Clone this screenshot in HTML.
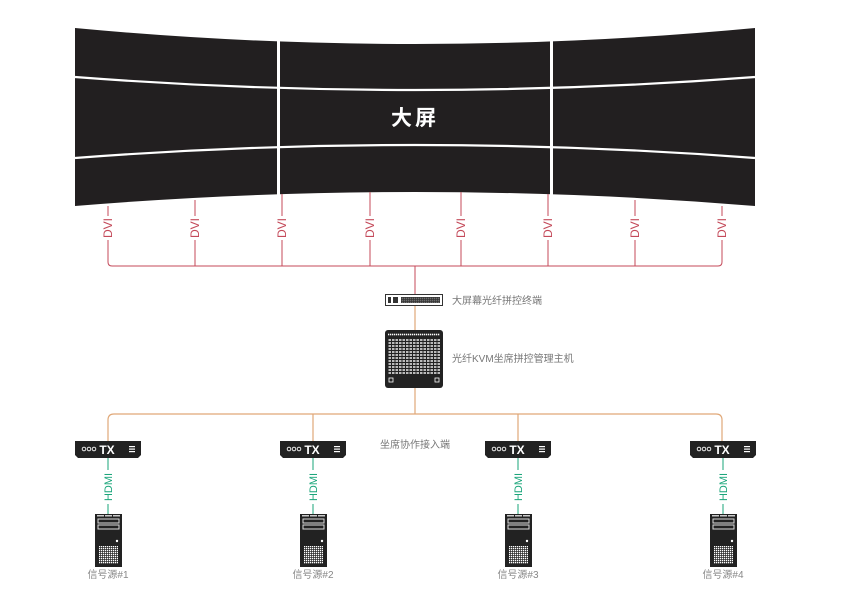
<!DOCTYPE html>
<html><head><meta charset="utf-8"><style>
html,body{margin:0;padding:0;background:#fff;width:852px;height:597px;overflow:hidden}
svg{display:block}
text{font-family:"Liberation Sans","Noto Sans CJK SC",sans-serif}
</style></head><body>
<svg width="852" height="597" viewBox="0 0 852 597" xmlns="http://www.w3.org/2000/svg">
<defs>
<g id="tx">
 <path d="M-33,0 H33 V14 L30,17 H-30 L-33,14 Z" fill="#222"/>
 <circle cx="-24" cy="8" r="1.8" fill="none" stroke="#fff" stroke-width="0.9"/>
 <circle cx="-19" cy="8" r="1.8" fill="none" stroke="#fff" stroke-width="0.9"/>
 <circle cx="-14" cy="8" r="1.8" fill="none" stroke="#fff" stroke-width="0.9"/>
 <text x="-1" y="13" font-size="12" font-weight="bold" fill="#fff" text-anchor="middle">TX</text>
 <rect x="21" y="5" width="6" height="1.2" fill="#fff"/><rect x="21" y="7.5" width="6" height="1.2" fill="#fff"/><rect x="21" y="10" width="6" height="1.2" fill="#fff"/>
</g>
<pattern id="grid" width="2" height="2" patternUnits="userSpaceOnUse"><rect width="1.3" height="1.3" fill="#fff"/></pattern>
<pattern id="kv" width="3.5" height="3" patternUnits="userSpaceOnUse"><rect width="2.5" height="2" fill="#bbb"/></pattern>
<g id="srv">
 <rect x="0" y="0" width="27" height="53" fill="#222"/>
 <rect x="2" y="1" width="7" height="1.5" fill="#ccc"/><rect x="10" y="1" width="7" height="1.5" fill="#ccc"/><rect x="18" y="1" width="7" height="1.5" fill="#ccc"/>
 <rect x="3" y="5" width="21" height="4" fill="none" stroke="#ddd" stroke-width="1"/>
 <rect x="3" y="11" width="21" height="4" fill="none" stroke="#ddd" stroke-width="1"/>
 <circle cx="22" cy="27" r="1.2" fill="#fff"/>
 <rect x="4" y="32" width="19" height="18" fill="url(#grid)"/>
</g>
</defs>
<!-- screen -->
<path d="M75,28 Q415,60 755,28 L755,206 Q415,178 75,206 Z" fill="#221f20"/>
<path d="M75,77 Q415,103 755,77" stroke="#fff" stroke-width="2.2" fill="none"/>
<path d="M75,158 Q415,132 755,158" stroke="#fff" stroke-width="2.2" fill="none"/>
<rect x="277" y="20" width="3" height="190" fill="#fff"/>
<rect x="550" y="20" width="3" height="190" fill="#fff"/>
<text x="415" y="125" font-size="21" font-weight="bold" fill="#fff" text-anchor="middle" letter-spacing="3">大屏</text>
<!-- DVI -->
<g stroke="#c44a5a" stroke-width="1" fill="none">
 <path d="M108,206 V262 Q108,266 112,266 H718 Q722,266 722,262 V206"/>
 <path d="M195,200 V266 M282,194 V266 M370,192 V266 M461,192 V266 M548,194 V266 M635,200 V266"/>
 <path d="M415,266 V294"/>
</g>
<g font-size="12" fill="#c44a5a">
 <g transform="translate(112,228) rotate(-90)"><rect x="-12" y="-10" width="24" height="12" fill="#fff"/><text text-anchor="middle">DVI</text></g>
 <g transform="translate(199,228) rotate(-90)"><rect x="-12" y="-10" width="24" height="12" fill="#fff"/><text text-anchor="middle">DVI</text></g>
 <g transform="translate(286,228) rotate(-90)"><rect x="-12" y="-10" width="24" height="12" fill="#fff"/><text text-anchor="middle">DVI</text></g>
 <g transform="translate(374,228) rotate(-90)"><rect x="-12" y="-10" width="24" height="12" fill="#fff"/><text text-anchor="middle">DVI</text></g>
 <g transform="translate(465,228) rotate(-90)"><rect x="-12" y="-10" width="24" height="12" fill="#fff"/><text text-anchor="middle">DVI</text></g>
 <g transform="translate(552,228) rotate(-90)"><rect x="-12" y="-10" width="24" height="12" fill="#fff"/><text text-anchor="middle">DVI</text></g>
 <g transform="translate(639,228) rotate(-90)"><rect x="-12" y="-10" width="24" height="12" fill="#fff"/><text text-anchor="middle">DVI</text></g>
 <g transform="translate(726,228) rotate(-90)"><rect x="-12" y="-10" width="24" height="12" fill="#fff"/><text text-anchor="middle">DVI</text></g>
</g>
<!-- orange -->
<g stroke="#e0a878" stroke-width="1.2" fill="none">
 <path d="M415,306 V330 M415,388 V414"/>
 <path d="M108,441 V420 Q108,414 114,414 H716 Q722,414 722,420 V441"/>
 <path d="M313,414 V441 M518,414 V441"/>
</g>
<!-- switch -->
<rect x="385.5" y="294.5" width="57" height="11" fill="#fff" stroke="#333"/>
<rect x="388" y="297" width="3" height="6" fill="#333"/><rect x="393" y="297" width="5" height="6" fill="#333"/>
<rect x="401" y="297" width="39" height="6" fill="#333"/>
<rect x="401" y="297" width="39" height="6" fill="url(#grid)" opacity="0.3"/>
<text x="452" y="304" font-size="10" fill="#777">大屏幕光纤拼控终端</text>
<!-- kvm -->
<rect x="385" y="330" width="58" height="58" rx="3" fill="#222"/>
<rect x="388" y="333" width="52" height="3" fill="url(#grid)"/>
<rect x="388" y="339" width="52" height="36" fill="url(#kv)"/>
<rect x="389" y="378" width="4" height="4" fill="none" stroke="#fff" stroke-width="0.8"/>
<rect x="435" y="378" width="4" height="4" fill="none" stroke="#fff" stroke-width="0.8"/>
<text x="452" y="362" font-size="10" fill="#777">光纤KVM坐席拼控管理主机</text>
<text x="380" y="448" font-size="10" fill="#777">坐席协作接入端</text>
<!-- TX + HDMI + servers -->
<g stroke="#1aa57a" stroke-width="1"><path d="M108,458 V514 M313,458 V514 M518,458 V514 M723,458 V514"/></g>
<use href="#tx" x="108" y="441"/><use href="#tx" x="313" y="441"/><use href="#tx" x="518" y="441"/><use href="#tx" x="723" y="441"/>
<g font-size="11" fill="#1aa57a">
 <g transform="translate(112,487) rotate(-90)"><rect x="-17" y="-10" width="34" height="12" fill="#fff"/><text text-anchor="middle">HDMI</text></g>
 <g transform="translate(317,487) rotate(-90)"><rect x="-17" y="-10" width="34" height="12" fill="#fff"/><text text-anchor="middle">HDMI</text></g>
 <g transform="translate(522,487) rotate(-90)"><rect x="-17" y="-10" width="34" height="12" fill="#fff"/><text text-anchor="middle">HDMI</text></g>
 <g transform="translate(727,487) rotate(-90)"><rect x="-17" y="-10" width="34" height="12" fill="#fff"/><text text-anchor="middle">HDMI</text></g>
</g>
<use href="#srv" x="95" y="514"/><use href="#srv" x="300" y="514"/><use href="#srv" x="505" y="514"/><use href="#srv" x="710" y="514"/>
<g font-size="10" fill="#888" text-anchor="middle">
 <text x="108" y="578">信号源#1</text><text x="313" y="578">信号源#2</text><text x="518" y="578">信号源#3</text><text x="723" y="578">信号源#4</text>
</g>
</svg>
</body></html>
